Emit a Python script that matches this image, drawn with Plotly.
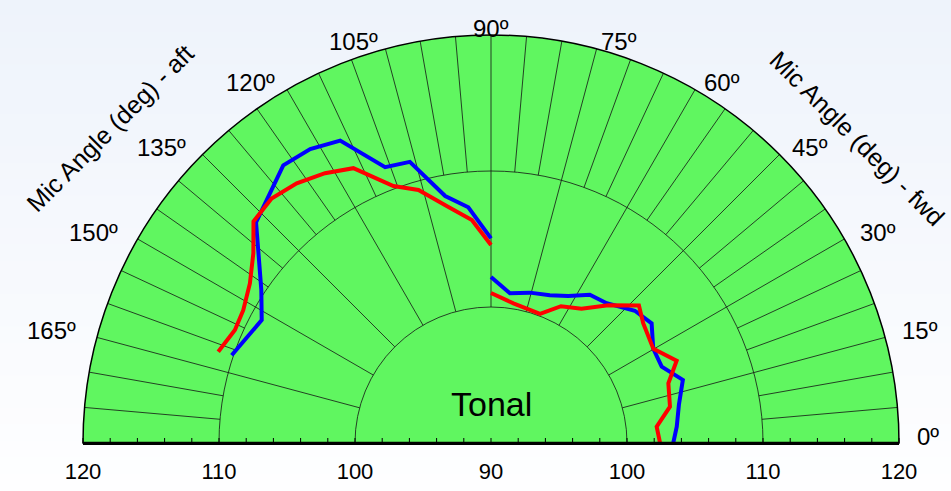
import math
import plotly.graph_objects as go

# ---------------- data ----------------
angle_ticks = [0, 15, 30, 45, 60, 75, 90, 105, 120, 135, 150, 165]
angle_labels = [f"{a}º" for a in angle_ticks]

level_tickvals = [-30, -20, -10, 0, 10, 20, 30]
level_ticktext = ["120", "110", "100", "90", "100", "110", "120"]

# aft side (90° .. 180°)
blue_aft_theta = [90, 95.5, 100.5, 106.1, 111.0, 116.5, 121.6, 126.8, 136.8, 142.1, 146.3, 151.8, 161.3]
blue_aft_r = [105.05, 107.41, 108.47, 111.52, 111.72, 114.85, 115.37, 115.5, 113.7, 111.6, 110.3, 109.13, 110.13]

red_aft_theta = [90, 94.9, 100.6, 106.0, 110.8, 116.6, 121.6, 126.8, 131.9, 137.0, 141.4, 146.5, 151.8, 156.2, 161.5]
red_aft_r = [104.56, 106.46, 107.73, 109.35, 110.21, 112.6, 113.29, 113.85, 114.16, 113.88, 112.36, 111.26, 110.67, 110.58, 111.15]

# fwd side (0° .. 90°)
blue_fwd_theta = [90, 82.8, 75.5, 68.3, 62.3, 56.3, 50.4, 42.6, 36.7, 30.2, 24.1, 18.2, 11.5, 5.0, 0]
blue_fwd_r = [102.2, 101.1, 101.42, 101.7, 102.21, 103.1, 103.34, 104.37, 104.73, 103.8, 103.75, 104.85, 104.1, 103.71, 103.4]

red_fwd_theta = [90, 80.9, 69.2, 62.9, 56.0, 49.6, 42.9, 38.2, 30.1, 23.9, 18.6, 11.5, 5.6, 0]
red_fwd_r = [101.03, 100.4, 100.15, 101.3, 101.9, 103.3, 104.85, 104.24, 103.8, 104.93, 103.76, 103.43, 102.24, 102.43]

# ---------------- styling ----------------
FONT = "Liberation Sans, Arial, sans-serif"
GREEN = "rgb(96,246,96)"
GRID = "rgba(20,20,20,0.8)"
W, H = 951, 491
CX, CY, RAD = 491, 443, 408          # polar centre / radius in pixels
x_dom = [(CX - RAD) / W, (CX + RAD) / W]
y_dom = [(H - CY) / H, (H - CY + RAD) / H]

fig = go.Figure()

# grid spokes: every 5° in the outer band, every 15° in the middle band
g_theta, g_r = [], []
for a in range(5, 180, 5):
    g_theta += [a, a, None]
    g_r += [110, 120, None]
for a in range(15, 180, 15):
    g_theta += [a, a, None]
    g_r += [100, 110, None]
fig.add_trace(go.Scatterpolar(theta=g_theta, r=g_r, mode="lines",
                              line=dict(color=GRID, width=1),
                              hoverinfo="skip", showlegend=False))

for th, rr, col in [(blue_aft_theta, blue_aft_r, "#0000FF"),
                    (blue_fwd_theta, blue_fwd_r, "#0000FF"),
                    (red_aft_theta, red_aft_r, "#FF0000"),
                    (red_fwd_theta, red_fwd_r, "#FF0000")]:
    fig.add_trace(go.Scatterpolar(theta=th, r=rr, mode="lines",
                                  line=dict(color=col, width=4),
                                  showlegend=False))

# empty cartesian trace so that the level axis is drawn
fig.add_trace(go.Scatter(x=[], y=[], xaxis="x", yaxis="y", showlegend=False))

# page gradient
n = 30
for i in range(n):
    t = i / (n - 1)
    c = [round(238 + (254 - 238) * t), round(243 + (254 - 243) * t), round(251 + (255 - 251) * t)]
    fig.add_shape(type="rect", xref="paper", yref="paper", x0=0, x1=1,
                  y0=1 - (i + 1) / n, y1=1 - i / n + 0.002, line_width=0,
                  fillcolor=f"rgb({c[0]},{c[1]},{c[2]})", layer="below")

# small upward ticks along the base line (every 2 dB), drawn above the polar area
base_y = y_dom[0]
tick_h = 5 / H
for v in range(-30, 31, 2):
    px = x_dom[0] + (v + 30) / 60 * (x_dom[1] - x_dom[0])
    fig.add_shape(type="line", xref="paper", yref="paper", x0=px, x1=px,
                  y0=base_y, y1=base_y + tick_h,
                  line=dict(color="black", width=1), layer="above")
fig.add_shape(type="line", xref="paper", yref="paper", x0=x_dom[0], x1=x_dom[1],
              y0=base_y, y1=base_y, line=dict(color="black", width=2.5), layer="above")

# angle labels placed just outside the rim
annotations = []
for a, lab in zip(angle_ticks, angle_labels):
    ca, sa = math.cos(math.radians(a)), math.sin(math.radians(a))
    px, py = CX + RAD * ca, CY - RAD * sa
    if a < 90:
        px += 18 * ca - 2
        xa = "left"
    elif a > 90:
        px -= 20 * abs(ca)
        xa = "right"
    else:
        xa = "center"
    py -= 7
    annotations.append(dict(text=lab, x=px / W, y=1 - py / H, xref="paper", yref="paper",
                            xanchor=xa, yanchor="middle", showarrow=False,
                            font=dict(size=24, family=FONT, color="black")))

annotations += [
    dict(text="Tonal", x=CX / W, y=1 - 404 / H, xref="paper", yref="paper",
         xanchor="center", yanchor="middle",
         showarrow=False, font=dict(size=34, family=FONT, color="black")),
    dict(text="Mic Angle (deg) - aft", x=110 / W, y=1 - 128 / H, xref="paper", yref="paper",
         xanchor="center", yanchor="middle",
         showarrow=False, textangle=-45, font=dict(size=25, family=FONT, color="black")),
    dict(text="Mic Angle (deg) - fwd", x=857 / W, y=1 - 138 / H, xref="paper", yref="paper",
         xanchor="center", yanchor="middle",
         showarrow=False, textangle=45, font=dict(size=25, family=FONT, color="black")),
]

fig.update_layout(
    width=W, height=H, autosize=False,
    margin=dict(l=0, r=0, t=0, b=0, pad=0, autoexpand=False),
    paper_bgcolor="white", plot_bgcolor="rgba(0,0,0,0)",
    font=dict(family=FONT, color="black"),
    polar=dict(
        domain=dict(x=x_dom, y=y_dom),
        sector=[0, 180],
        bgcolor=GREEN,
        radialaxis=dict(range=[90, 120], tickvals=[100, 110], showticklabels=False,
                        ticks="", showline=False, showgrid=True,
                        gridcolor=GRID, gridwidth=1),
        angularaxis=dict(tickmode="array", tickvals=angle_ticks, ticktext=angle_labels,
                         direction="counterclockwise", rotation=0, showticklabels=False,
                         showgrid=False, showline=True, linecolor="black", linewidth=1.5,
                         ticks=""),
    ),
    xaxis=dict(domain=x_dom, range=[-30, 30], tickmode="array",
               tickvals=level_tickvals, ticktext=level_ticktext,
               showline=True, linecolor="black", linewidth=2,
               ticks="", ticklabelstandoff=8, automargin=False,
               tickfont=dict(size=22, family=FONT, color="black"),
               showgrid=False, zeroline=False, fixedrange=True),
    yaxis=dict(domain=y_dom, range=[0, 1], visible=False, fixedrange=True, automargin=False),
    annotations=annotations,
)

fig.write_html("out.html", config={"displayModeBar": False},
               post_script="document.body.style.margin='0';document.body.style.overflow='hidden';")
